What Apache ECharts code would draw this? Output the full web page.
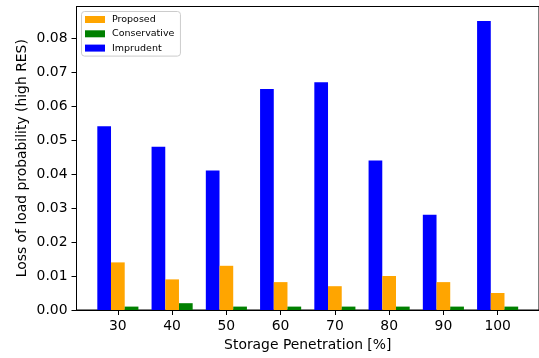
<!DOCTYPE html>
<html><head><meta charset="utf-8">
<script src="https://cdn.jsdelivr.net/npm/echarts@6/dist/echarts.min.js"></script>
<style>html,body{margin:0;padding:0;background:#fff}#c{width:539px;height:358px}</style>
</head><body><div id="c"></div>
<script>
const categories = ['30','40','50','60','70','80','90','100'];
const proposed = [0.014, 0.009, 0.013, 0.0082, 0.007, 0.010, 0.0082, 0.005];
const conservative = [0.001, 0.002, 0.001, 0.001, 0.001, 0.001, 0.001, 0.001];
const imprudent = [0.054, 0.048, 0.041, 0.065, 0.067, 0.044, 0.028, 0.085];
const yTicks = [0, 0.01, 0.02, 0.03, 0.04, 0.05, 0.06, 0.07, 0.08];

const FONT = 'DejaVu Sans';
const idx = categories.map((c, i) => i);
const toPts = arr => arr.map((v, i) => [i, v]);

const chart = echarts.init(document.getElementById('c'), null, {renderer: 'canvas'});
chart.setOption({
  animation: false,
  textStyle: {fontFamily: FONT},
  grid: {left: 76.5, right: -4.8, top: 6.5, bottom: 48, show: true, borderColor: '#000', borderWidth: 1, containLabel: false},
  legend: {
    data: ['Proposed', 'Conservative', 'Imprudent'],
    orient: 'vertical', left: 81.5, top: 11.5,
    itemWidth: 20, itemHeight: 7, itemGap: 3.3,
    icon: 'rect',
    backgroundColor: 'rgba(255,255,255,0.8)',
    borderColor: '#cccccc', borderWidth: 1, borderRadius: 3,
    padding: [2.5, 6, 2.5, 3.5],
    textStyle: {fontFamily: FONT, fontSize: 9.5, color: '#000', lineHeight: 11, padding: [0, 0, 0, 2]}
  },
  xAxis: {
    type: 'value', min: -0.7625, max: 7.7625,
    name: 'Storage Penetration [%]', nameLocation: 'middle', nameGap: 28.5,
    nameTextStyle: {fontFamily: FONT, fontSize: 13.9, color: '#000'},
    axisLine: {show: true, onZero: false, lineStyle: {color: '#000', width: 1}},
    axisTick: {show: true, length: 5, customValues: idx, lineStyle: {color: '#000', width: 1}},
    axisLabel: {customValues: idx, formatter: v => categories[Math.round(v)], fontFamily: FONT, fontSize: 13.9, color: '#000', margin: 9},
    splitLine: {show: false}
  },
  yAxis: {
    type: 'value', min: 0, max: 0.08925,
    name: 'Loss of load probability (high RES)', nameLocation: 'middle', nameGap: 47.5,
    nameMoveOverlap: false,
    nameTextStyle: {fontFamily: FONT, fontSize: 13.9, color: '#000'},
    axisLine: {show: true, onZero: false, lineStyle: {color: '#000', width: 1}},
    axisTick: {show: true, length: 5, customValues: yTicks, lineStyle: {color: '#000', width: 1}},
    axisLabel: {customValues: yTicks, formatter: v => v.toFixed(2), fontFamily: FONT, fontSize: 13.9, color: '#000', margin: 9},
    splitLine: {show: false}
  },
  series: [
    {name: 'Imprudent', type: 'bar', data: toPts(imprudent), barWidth: 13.7, barGap: '0%', itemStyle: {color: '#0000ff'}},
    {name: 'Proposed', type: 'bar', data: toPts(proposed), barWidth: 13.7, barGap: '0%', itemStyle: {color: '#ffa500'}},
    {name: 'Conservative', type: 'bar', data: toPts(conservative), barWidth: 13.7, barGap: '0%', itemStyle: {color: '#008000'}}
  ]
});
</script></body></html>
